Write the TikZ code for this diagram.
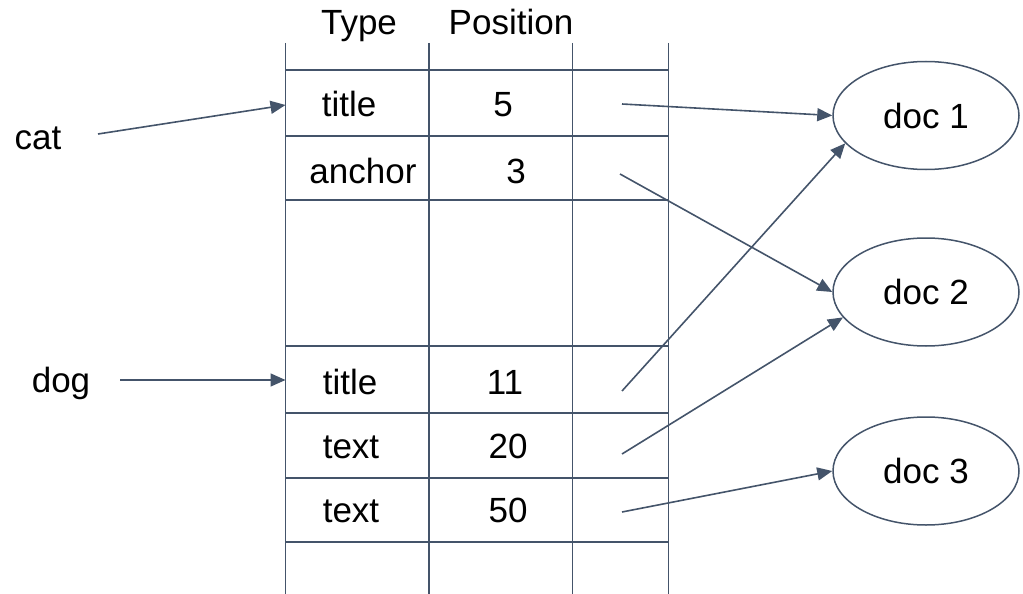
\documentclass[tikz,border=0pt]{standalone}
\usepackage{fontspec}
\setmainfont{Liberation Sans}
\usetikzlibrary{arrows.meta,shapes.geometric}
\definecolor{ink}{HTML}{44546A}
\begin{document}
\begin{tikzpicture}[x=1pt,y=-1pt,
  every node/.style={font=\fontsize{35}{42}\selectfont, text=black, inner sep=0pt},
  lbl/.style={anchor=base},
  grid/.style={draw=ink, line width=1.8pt},
  link/.style={draw=ink, line width=1.6pt, -{Triangle[length=15pt,width=13pt]}},
  docnode/.style={ellipse, draw=ink, line width=1.5pt, minimum width=186pt, minimum height=108pt}]
\useasboundingbox (0,0) rectangle (1023,594);

% table grid
\foreach \x in {285.5,429,572.5,668.5} \draw[grid] (\x,43) -- (\x,594);
\foreach \y in {70,136,200,346,413,478,542} \draw[grid] (285.5,\y) -- (668.5,\y);

% column headers
\node[lbl] (hType) at (359,35) {Type};
\node[lbl] (hPos) at (511,35) {Position};

% table entries
\node[lbl] (t1) at (349,116) {title};
\node[lbl] (p1) at (503,116) {5};
\node[lbl] (t2) at (363,183) {anchor};
\node[lbl] (p2) at (516,183) {3};
\node[lbl] (t3) at (350,394) {title};
\node[lbl] (p3) at (505,394) {11};
\node[lbl] (t4) at (351,458) {text};
\node[lbl] (p4) at (508,458) {20};
\node[lbl] (t5) at (351,522) {text};
\node[lbl] (p5) at (508,522) {50};

% terms
\node[lbl] (cat) at (38,149) {cat};
\node[lbl] (dog) at (61,392) {dog};

% documents
\node[docnode] (doc1) at (926,115.5) {doc 1};
\node[docnode] (doc2) at (926,292) {doc 2};
\node[docnode] (doc3) at (926,471) {doc 3};

% connector ends
\coordinate (catout) at (98,134);
\coordinate (catin) at (285.5,105);
\coordinate (dogout) at (120,380);
\coordinate (dogin) at (285.5,380);
\coordinate (r1) at (622,104);
\coordinate (r2) at (620,174);
\coordinate (r3) at (622,391);
\coordinate (r4) at (622,454);
\coordinate (r5) at (622,512);

% connectors
\draw[link] (catout) -- (catin);
\draw[link] (dogout) -- (dogin);
\draw[link] (r1) -- (doc1.west);
\draw[link] (r2) -- (doc2.west);
\draw[link] (r3) -- (doc1.199);
\draw[link] (r4) -- (doc2.197);
\draw[link] (r5) -- (doc3.west);
\end{tikzpicture}
\end{document}
